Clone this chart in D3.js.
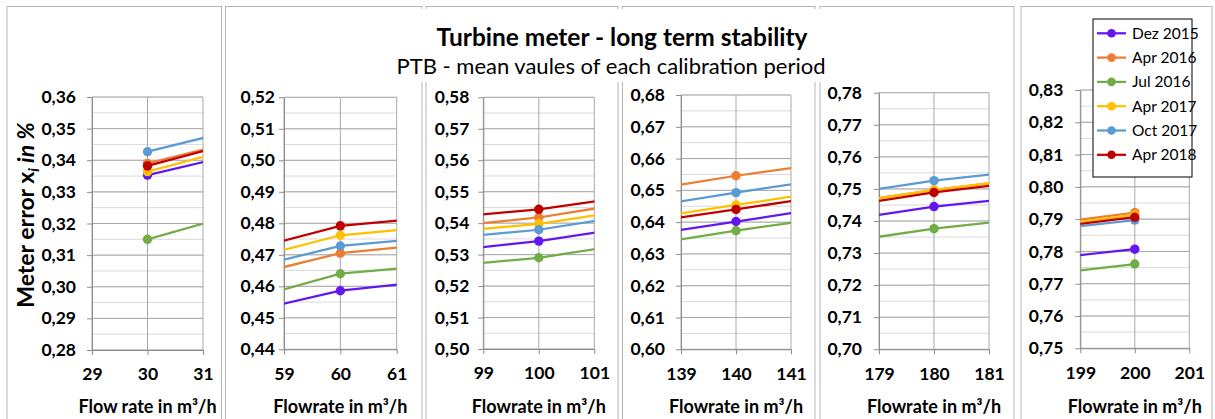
<!DOCTYPE html>
<html>
<head>
<meta charset="utf-8">
<script src="https://cdn.jsdelivr.net/npm/d3@7"></script>
<style>
  body { margin: 0; background: #fff; }
  text { font-family: Lato, "Open Sans", sans-serif; }
</style>
</head>
<body>
<svg id="chart"></svg>
<script>
// calibration flow rates and mean meter error per period
var flows = [30, 60, 100, 140, 180, 200];
var periods = ["Dez 2015", "Apr 2016", "Jul 2016", "Apr 2017", "Oct 2017", "Apr 2018"];
var colors = ["#6316f2", "#ed7d31", "#70ad47", "#ffc000", "#5b9bd5", "#c00000"];

var dez2015 = [0.3353, 0.4586, 0.5343, 0.6402, 0.7445, 0.7807];
var apr2016 = [0.3390, 0.4705, 0.5418, 0.6546, 0.7496, 0.7920];
var jul2016 = [0.3150, 0.4640, 0.5290, 0.6373, 0.7376, 0.7761];
var apr2017 = [0.3364, 0.4762, 0.5398, 0.6454, 0.7497, 0.7913];
var oct2017 = [0.3427, 0.4728, 0.5379, 0.6493, 0.7526, 0.7897];
var apr2018 = [0.3382, 0.4792, 0.5444, 0.6440, 0.7489, 0.7906];
var series = [dez2015, apr2016, jul2016, apr2017, oct2017, apr2018];

// axis ranges of each small chart
var yMins = [0.28, 0.44, 0.50, 0.60, 0.70, 0.75];
var yMaxs = [0.36, 0.52, 0.58, 0.68, 0.78, 0.83];
var xTitles = ["Flow rate in m³/h", "Flowrate in m³/h", "Flowrate in m³/h",
               "Flowrate in m³/h", "Flowrate in m³/h", "Flowrate in m³/h"];

var width = 1215, height = 419;

// chart boxes and plot areas (pixels)
var boxes = [[7, 221.5], [225.5, 422], [426, 618], [622.5, 815], [820, 1014], [1021, 1212]];
var plots = [
  {l: 92,   r: 203,   t: 97,   b: 350, gap: 16},
  {l: 284,  r: 396.7, t: 97.3, b: 349.3, gap: 9},
  {l: 483.3, r: 594.3, t: 97.3, b: 349, gap: 14},
  {l: 681,  r: 791,   t: 95,   b: 349.3, gap: 16},
  {l: 879,  r: 989,   t: 92.7, b: 349.3, gap: 17},
  {l: 1080.3, r: 1189.3, t: 90, b: 348.3, gap: 17}
];

var fmt = function(d) { return d3.format(".2f")(d).replace(".", ","); };

var svg = d3.select("#chart")
            .attr("width", width)
            .attr("height", height);

var defs = svg.append("defs");

// panel frames first
boxes.forEach(function(bx) {
  svg.append("rect")
      .attr("x", bx[0])
      .attr("y", 6.5)
      .attr("width", bx[1] - bx[0])
      .attr("height", height + 20)
      .attr("fill", "#fff")
      .attr("stroke", "#b4b4b4")
      .attr("stroke-width", 1);
});

// white title band over the middle charts
svg.append("rect")
    .attr("x", 226.5)
    .attr("y", 9)
    .attr("width", 1013 - 226.5)
    .attr("height", 73)
    .attr("fill", "#fff");

svg.append("text")
    .attr("x", 622)
    .attr("y", 46)
    .attr("text-anchor", "middle")
    .style("font-size", "24.5px")
    .style("font-weight", "bold")
    .text("Turbine meter - long term stability");

svg.append("text")
    .attr("x", 611)
    .attr("y", 74)
    .attr("text-anchor", "middle")
    .style("font-size", "22px")
    .text("PTB - mean vaules of each calibration period");

plots.forEach(function(p, k) {
  var c = flows[k];
  var x = d3.scaleLinear().domain([c - 1, c + 1]).range([p.l, p.r]);
  var y = d3.scaleLinear().domain([yMins[k], yMaxs[k]]).range([p.b, p.t]);
  var g = svg.append("g").classed("panel", true);

  var minor = d3.range(0, 17).map(i => yMins[k] + i * 0.005);
  var major = d3.range(0, 9).map(i => yMins[k] + i * 0.01);

  g.selectAll(".minor")
    .data(minor)
    .enter()
    .append("line")
      .attr("x1", p.l).attr("x2", p.r)
      .attr("y1", d => y(d)).attr("y2", d => y(d))
      .attr("stroke", "#dadada")
      .attr("stroke-width", 1);

  g.selectAll(".major")
    .data(major)
    .enter()
    .append("line")
      .attr("x1", p.l).attr("x2", p.r)
      .attr("y1", d => y(d)).attr("y2", d => y(d))
      .attr("stroke", "#a8a8a8")
      .attr("stroke-width", 1);

  g.selectAll(".vgrid")
    .data([c - 1, c, c + 1])
    .enter()
    .append("line")
      .attr("x1", d => x(d)).attr("x2", d => x(d))
      .attr("y1", p.t).attr("y2", p.b)
      .attr("stroke", "#a8a8a8")
      .attr("stroke-width", 1);

  var yAxis = g.append("g")
      .attr("transform", "translate(" + p.l + ",0)")
      .call(d3.axisLeft(y).tickValues(major).tickSize(5).tickSizeOuter(0)
              .tickPadding(p.gap - 5).tickFormat(fmt));

  var xAxis = g.append("g")
      .attr("transform", "translate(0," + p.b + ")")
      .call(d3.axisBottom(x).tickValues([c - 1, c, c + 1]).tickSize(5).tickSizeOuter(0)
              .tickPadding(13).tickFormat(d3.format("d")));

  [yAxis, xAxis].forEach(function(ax) {
    ax.select(".domain").attr("stroke", "#8c8c8c");
    ax.selectAll(".tick line").attr("stroke", "#8c8c8c");
    ax.selectAll(".tick text")
        .attr("fill", "#000")
        .style("font-family", "Lato, sans-serif")
        .style("font-size", "17.5px")
        .style("font-weight", "bold");
  });

  g.append("text")
      .attr("x", (p.l + p.r) / 2)
      .attr("y", 413)
      .attr("text-anchor", "middle")
      .style("font-size", "18px")
      .style("font-weight", "bold")
      .text(xTitles[k]);

  defs.append("clipPath")
      .attr("id", "clip" + k)
    .append("rect")
      .attr("x", p.l).attr("y", p.t)
      .attr("width", p.r - p.l).attr("height", p.b - p.t);

  var line = d3.line()
      .x((d, i) => x(flows[i]))
      .y(d => y(d));

  var lines = g.append("g").attr("clip-path", "url(#clip" + k + ")");

  series.forEach(function(s, j) {
    lines.append("path")
        .attr("d", line(s))
        .attr("fill", "none")
        .attr("stroke", colors[j])
        .attr("stroke-width", 2.25);

    lines.append("circle")
        .attr("cx", x(flows[k]))
        .attr("cy", y(s[k]))
        .attr("r", 4.7)
        .attr("fill", colors[j]);
  });
});

// y axis title
var yTitle = svg.append("text")
    .attr("transform", "translate(34,215) rotate(-90)")
    .attr("text-anchor", "middle")
    .style("font-size", "23px")
    .style("font-weight", "bold");
yTitle.append("tspan").text("Meter error x");
yTitle.append("tspan")
    .attr("dy", 5)
    .style("font-size", "15px")
    .style("font-style", "italic")
    .text("i");
yTitle.append("tspan")
    .attr("dy", -5)
    .style("font-style", "italic")
    .text(" in %");

// legend
var legend = svg.append("g").classed("legend", true);
legend.append("rect")
    .attr("x", 1093)
    .attr("y", 19)
    .attr("width", 99)
    .attr("height", 158)
    .attr("fill", "#fff")
    .attr("stroke", "#000")
    .attr("stroke-width", 1);

var rows = legend.selectAll(".row")
    .data(periods)
    .enter()
    .append("g")
      .attr("transform", (d, i) => "translate(0," + (33.3 + i * 24.3) + ")");

rows.append("line")
    .attr("x1", 1097).attr("x2", 1126)
    .attr("stroke", (d, i) => colors[i])
    .attr("stroke-width", 2.25);

rows.append("circle")
    .attr("cx", 1111.5)
    .attr("r", 4.3)
    .attr("fill", (d, i) => colors[i]);

rows.append("text")
    .attr("x", 1132)
    .attr("dy", "0.35em")
    .style("font-size", "15.5px")
    .text(d => d);
</script>
</body>
</html>
